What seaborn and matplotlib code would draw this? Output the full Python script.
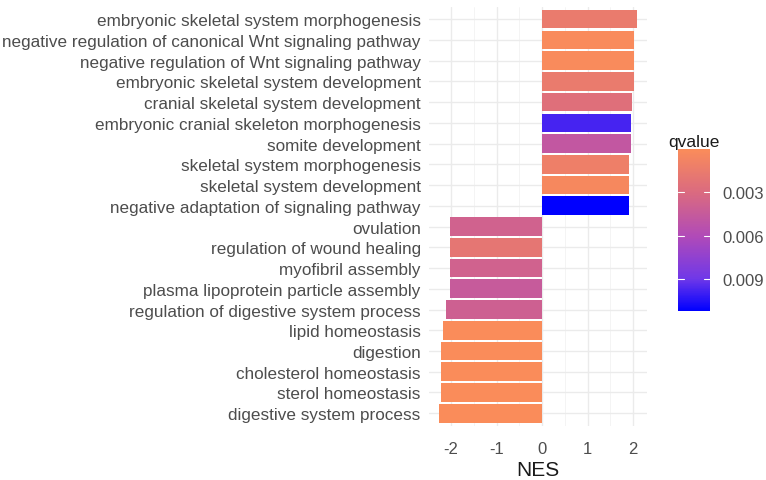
import numpy as np
import pandas as pd
import matplotlib
matplotlib.use("Agg")
import matplotlib.pyplot as plt
from matplotlib.colors import LinearSegmentedColormap, Normalize
from matplotlib.cm import ScalarMappable
import seaborn as sns

terms = [
    "embryonic skeletal system morphogenesis",
    "negative regulation of canonical Wnt signaling pathway",
    "negative regulation of Wnt signaling pathway",
    "embryonic skeletal system development",
    "cranial skeletal system development",
    "embryonic cranial skeleton morphogenesis",
    "somite development",
    "skeletal system morphogenesis",
    "skeletal system development",
    "negative adaptation of signaling pathway",
    "ovulation",
    "regulation of wound healing",
    "myofibril assembly",
    "plasma lipoprotein particle assembly",
    "regulation of digestive system process",
    "lipid homeostasis",
    "digestion",
    "cholesterol homeostasis",
    "sterol homeostasis",
    "digestive system process",
]
nes = [2.09, 2.02, 2.02, 2.02, 1.98, 1.96, 1.96, 1.91, 1.91, 1.91,
       -2.03, -2.03, -2.03, -2.03, -2.11, -2.19, -2.23, -2.22, -2.22, -2.27]
qvalue = [0.0016, 0.0002, 0.0002, 0.0016, 0.0026, 0.0098, 0.0048, 0.0012, 0.0004, 0.0112,
          0.0038, 0.0020, 0.0038, 0.0045, 0.0040, 0.00004, 0.00004, 0.00004, 0.00004, 0.00003]
cbar_ticks = [0.003, 0.006, 0.009]

df = pd.DataFrame({"term": terms, "NES": nes, "qvalue": qvalue})

# orange (low q) -> blue (high q)
cmap = LinearSegmentedColormap.from_list(
    "q", [(0.0, "#FA8C5A"), (0.27, "#DA6A80"), (0.54, "#B04AB8"),
          (0.80, "#7038E8"), (1.0, "#0000FF")])
norm = Normalize(vmin=min(qvalue), vmax=max(qvalue))
palette = {t: cmap(norm(q)) for t, q in zip(terms, qvalue)}

sns.set_theme(style="white")
plt.rcParams["font.family"] = ["Liberation Sans", "DejaVu Sans"]

fig = plt.figure(figsize=(7.66, 4.81), dpi=100)
ax = fig.add_axes([0.560, 0.113, 0.285, 0.871])

sns.barplot(data=df, y="term", x="NES", hue="term", palette=palette,
            order=terms, hue_order=terms, dodge=False, legend=False,
            width=0.9, linewidth=0, saturation=1, ax=ax)

xmin, xmax = min(nes), max(nes)
pad = 0.05 * (xmax - xmin)
ax.set_xlim(xmin - pad, xmax + pad)
ax.set_ylim(len(terms) - 0.4, -0.6)

ax.set_xticks([-2, -1, 0, 1, 2])
ax.set_xticklabels(["-2", "-1", "0", "1", "2"])
ax.set_xticks([-1.5, -0.5, 0.5, 1.5], minor=True)
ax.set_axisbelow(True)
ax.grid(True, which="major", axis="both", color="#EBEBEB", linewidth=1.0)
ax.grid(True, which="minor", axis="x", color="#F3F3F3", linewidth=0.6)
for s in ax.spines.values():
    s.set_visible(False)
ax.tick_params(axis="y", which="both", length=0, pad=6,
               labelsize=12.3, labelcolor="#4D4D4D")
ax.tick_params(axis="x", which="both", length=0, pad=11,
               labelsize=12, labelcolor="#4D4D4D")
ax.set_ylabel("")
ax.set_xlabel("NES", fontsize=15, color="#1A1A1A", labelpad=3)

# colour bar legend, low values on top
cax = fig.add_axes([678 / 766, 1 - 312 / 481, 32 / 766, 162 / 481])
sm = ScalarMappable(norm=norm, cmap=cmap)
cb = fig.colorbar(sm, cax=cax, ticks=cbar_ticks)
cb.outline.set_visible(False)
cax.invert_yaxis()
cb.ax.set_yticklabels(["0.003", "0.006", "0.009"])
cb.ax.tick_params(length=0, labelsize=12, labelcolor="#4D4D4D", pad=9)
for t in cbar_ticks:
    cax.plot([0, 0.2], [t, t], color="white", lw=0.8, transform=cax.get_yaxis_transform())
    cax.plot([0.8, 1.0], [t, t], color="white", lw=0.8, transform=cax.get_yaxis_transform())
fig.text(668 / 766, 1 - 142 / 481, "qvalue", fontsize=12.5, color="#1A1A1A",
         ha="left", va="center")

fig.savefig("out.png", dpi=100)
